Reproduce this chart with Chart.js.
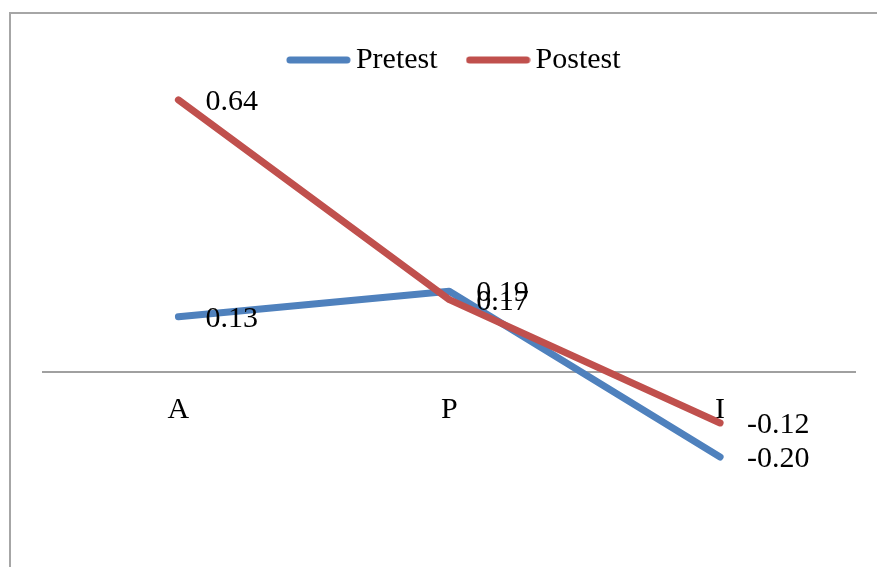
<!DOCTYPE html>
<html>
<head>
<meta charset="utf-8">
<script src="https://cdn.jsdelivr.net/npm/chart.js@4/dist/chart.umd.min.js"></script>
<style>
  html, body { margin: 0; padding: 0; background: #fff; }
  #wrap { width: 877px; height: 567px; position: relative; }
</style>
</head>
<body>
<div id="wrap"><canvas id="c" width="877" height="567"></canvas></div>
<script>
const categories = ['A', 'P', 'I'];
const seriesNames = ['Pretest', 'Postest'];
const pretest = [0.13, 0.19, -0.20];
const postest = [0.64, 0.17, -0.12];
const colors = ['#4F81BD', '#C0504D'];

const FONT = "'Liberation Serif', 'Times New Roman', serif";
Chart.defaults.font.family = FONT;
Chart.defaults.color = '#000';

function legendLine(color) {
  const cv = document.createElement('canvas');
  cv.width = 65; cv.height = 10;
  const g = cv.getContext('2d');
  g.strokeStyle = color; g.lineWidth = 7; g.lineCap = 'round';
  g.beginPath(); g.moveTo(4, 5); g.lineTo(61, 5); g.stroke();
  return cv;
}

const framePlugin = {
  id: 'frame',
  beforeDraw(chart) {
    const ctx = chart.ctx;
    ctx.save();
    ctx.strokeStyle = '#A6A6A6';
    ctx.lineWidth = 2;
    ctx.beginPath();
    ctx.moveTo(10, 567);
    ctx.lineTo(10, 13);
    ctx.lineTo(877, 13);
    ctx.stroke();
    ctx.restore();
  }
};

const legendShift = {
  id: 'legendShift',
  afterLayout(chart) {
    if (chart.legend) { chart.legend.left += 9; chart.legend.right += 9; }
  }
};

const valueLabels = {
  id: 'valueLabels',
  afterDatasetsDraw(chart) {
    const ctx = chart.ctx;
    ctx.save();
    ctx.font = '30px ' + FONT;
    ctx.fillStyle = '#000';
    ctx.textAlign = 'left';
    ctx.textBaseline = 'middle';
    chart.data.datasets.forEach((ds, di) => {
      const meta = chart.getDatasetMeta(di);
      meta.data.forEach((pt, i) => {
        ctx.fillText(ds.data[i].toFixed(2), pt.x + 27, pt.y + 2);
      });
    });
    ctx.restore();
  }
};

new Chart(document.getElementById('c'), {
  type: 'line',
  data: {
    labels: categories,
    datasets: [
      { label: seriesNames[0], data: pretest, borderColor: colors[0], backgroundColor: colors[0],
        borderWidth: 7, pointRadius: 0, tension: 0, borderCapStyle: 'round', borderJoinStyle: 'round',
        pointStyle: legendLine(colors[0]), order: 1 },
      { label: seriesNames[1], data: postest, borderColor: colors[1], backgroundColor: colors[1],
        borderWidth: 7, pointRadius: 0, tension: 0, borderCapStyle: 'round', borderJoinStyle: 'round',
        pointStyle: legendLine(colors[1]), order: 0 }
    ]
  },
  options: {
    responsive: false,
    animation: false,
    devicePixelRatio: 1,
    layout: { padding: { left: 43, right: 21.5, top: 7, bottom: 25 } },
    plugins: {
      legend: {
        position: 'top',
        labels: {
          usePointStyle: true,
          pointStyleWidth: 45,
          padding: 38,
          color: '#000',
          font: { size: 30, family: FONT },
          sort: (a, b) => a.datasetIndex - b.datasetIndex
        }
      },
      tooltip: { enabled: false }
    },
    scales: {
      x: {
        type: 'category',
        offset: true,
        position: { y: 0 },
        grid: { display: false, drawTicks: false },
        border: { display: true, color: '#A0A0A0', width: 2 },
        ticks: { color: '#000', font: { size: 30, family: FONT }, padding: 20, maxRotation: 0 }
      },
      y: {
        display: false,
        min: -0.4,
        max: 0.675
      }
    }
  },
  plugins: [framePlugin, legendShift, valueLabels]
});
</script>
</body>
</html>
